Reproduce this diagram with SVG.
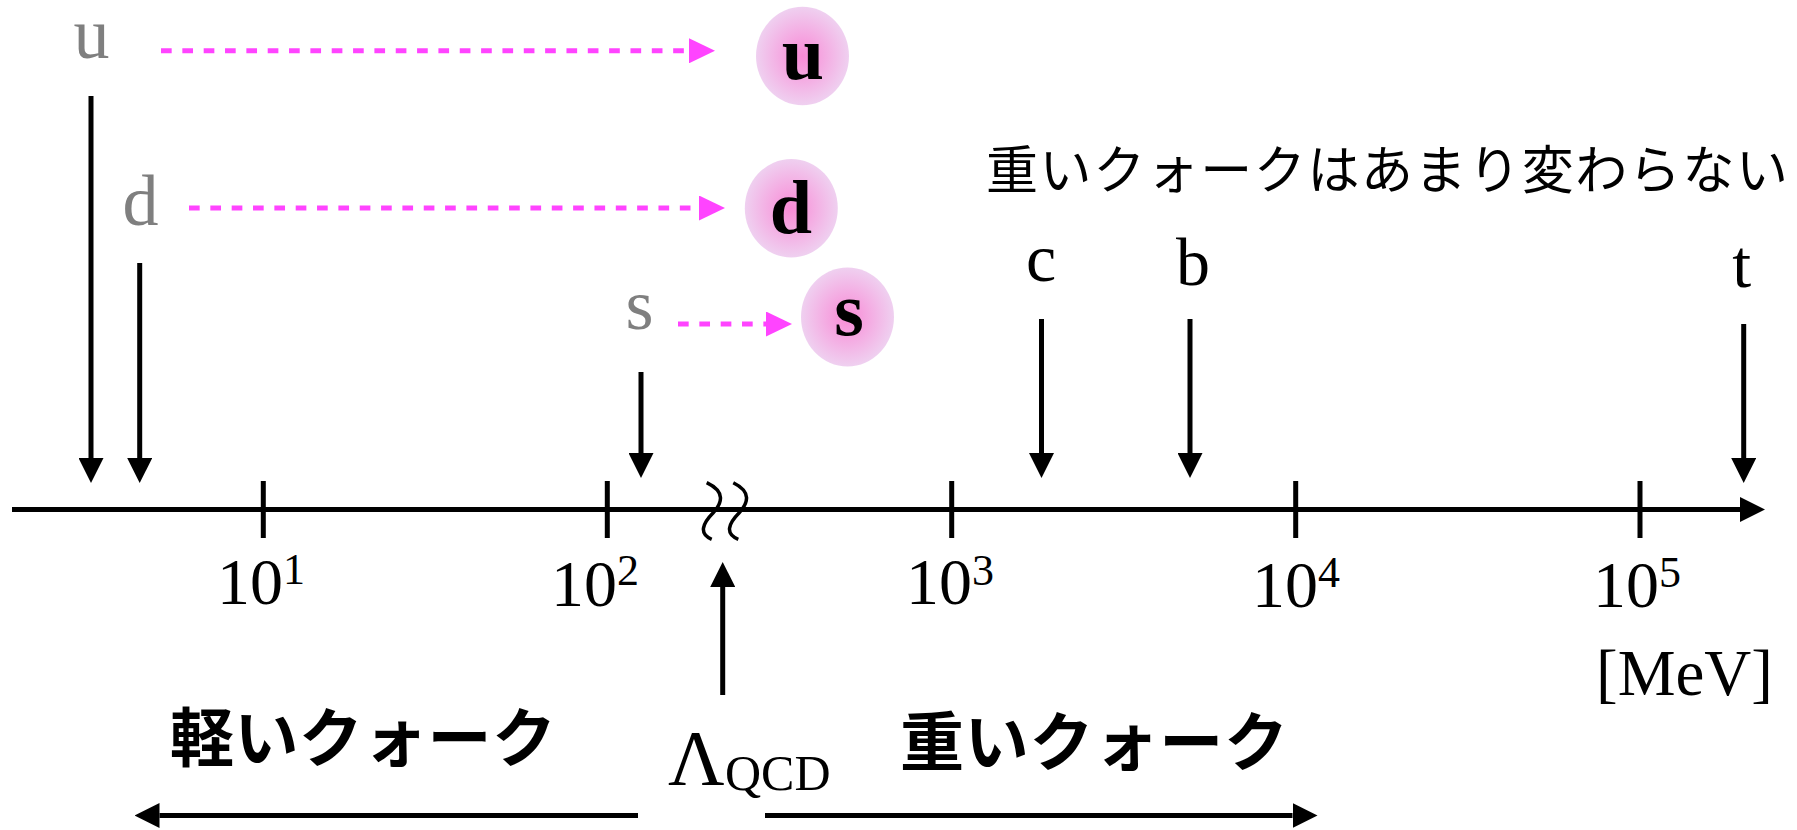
<svg xmlns="http://www.w3.org/2000/svg" width="1797" height="830" viewBox="0 0 1797 830">
<style>
.ser{font-family:"Liberation Serif","Times New Roman",serif}
.gray{font-family:"Liberation Serif",serif;font-size:72px;fill:#7f7f7f;text-anchor:middle}
.bold{font-family:"Liberation Serif",serif;font-size:76px;font-weight:bold;fill:#000;text-anchor:middle}
.lbl{font-family:"Liberation Serif",serif;font-size:68px;fill:#000;text-anchor:middle}
.num{font-family:"Liberation Serif",serif;font-size:66px;fill:#000}
.sup{font-size:44px}
.jp{font-family:"Noto Sans CJK JP","Noto Sans CJK SC",sans-serif;fill:#000}
.ln{stroke:#000;stroke-width:5;fill:none}
.pk{stroke:#ff44ff;stroke-width:5;fill:none;stroke-dasharray:10.67 10.67}
.sq{stroke:#000;stroke-width:3.5;fill:none}
</style>
<defs>
<radialGradient id="glow" cx="50%" cy="50%" r="50%">
<stop offset="0" stop-color="#f98ad6"/>
<stop offset="1" stop-color="#efd0f0"/>
</radialGradient>
<marker id="ah" markerUnits="userSpaceOnUse" markerWidth="25" markerHeight="25" viewBox="0 0 25 25" refX="0" refY="12.5" orient="auto">
<path d="M0,0 L25,12.5 L0,25 z" fill="#000"/>
</marker>
<marker id="ap" markerUnits="userSpaceOnUse" markerWidth="26" markerHeight="25" viewBox="0 0 26 25" refX="0" refY="12.5" orient="auto">
<path d="M0,0 L26,12.5 L0,25 z" fill="#ff44ff"/>
</marker>
</defs>

<g id="connectors">
<line class="ln" x1="12" y1="509.5" x2="1740" y2="509.5" marker-end="url(#ah)" stroke-width="5.5"/>
<line class="ln" x1="263.3" y1="481" x2="263.3" y2="538"/>
<line class="ln" x1="607.3" y1="481" x2="607.3" y2="538"/>
<line class="ln" x1="951.7" y1="481" x2="951.7" y2="538"/>
<line class="ln" x1="1295.7" y1="481" x2="1295.7" y2="538"/>
<line class="ln" x1="1640" y1="481" x2="1640" y2="538"/>
<path class="sq" d="M706.7,482.7 C726,492 722,503 713,513 C702,524 699,534 711.7,539.3"/>
<path class="sq" d="M733.3,482.7 C752,492 748,503 739,513 C728,524 725,534 738.3,539.3"/>
<line class="ln" x1="91" y1="96" x2="91" y2="458" marker-end="url(#ah)"/>
<line class="ln" x1="139.7" y1="263" x2="139.7" y2="458" marker-end="url(#ah)"/>
<line class="ln" x1="641" y1="372" x2="641" y2="453" marker-end="url(#ah)"/>
<line class="ln" x1="1041.5" y1="319" x2="1041.5" y2="453" marker-end="url(#ah)"/>
<line class="ln" x1="1190" y1="319" x2="1190" y2="453" marker-end="url(#ah)"/>
<line class="ln" x1="1743.7" y1="324" x2="1743.7" y2="458" marker-end="url(#ah)"/>
<line class="ln" x1="722.7" y1="695" x2="722.7" y2="587" marker-end="url(#ah)"/>
<line class="ln" x1="638" y1="815.5" x2="159.5" y2="815.5" marker-end="url(#ah)" stroke-width="5.5"/>
<line class="ln" x1="765" y1="815.5" x2="1292.5" y2="815.5" marker-end="url(#ah)" stroke-width="5.5"/>
<line class="pk" x1="161" y1="50.8" x2="689" y2="50.8" marker-end="url(#ap)"/>
<line class="pk" x1="189" y1="208" x2="699" y2="208" marker-end="url(#ap)"/>
<line class="pk" x1="678" y1="324" x2="766" y2="324" marker-end="url(#ap)"/>
</g>

<g id="light-u">
<text class="gray" x="91.5" y="58">u</text>
</g>
<g id="light-d">
<text class="gray" x="140.5" y="225">d</text>
</g>
<g id="light-s">
<text class="gray" x="639.5" y="329">s</text>
</g>

<g id="dressed-u">
<ellipse cx="802.5" cy="56" rx="46.5" ry="49.3" fill="url(#glow)"/>
<text class="bold" x="803" y="79">u</text>
</g>
<g id="dressed-d">
<ellipse cx="791.3" cy="208.2" rx="46.5" ry="49.3" fill="url(#glow)"/>
<text class="bold" x="791" y="233">d</text>
</g>
<g id="dressed-s">
<ellipse cx="847.5" cy="317" rx="46.5" ry="49.5" fill="url(#glow)"/>
<text class="bold" x="849" y="335">s</text>
</g>

<g id="heavy-note">
<text class="jp" x="986" y="189" font-size="52" textLength="802" lengthAdjust="spacing">重いクォークはあまり変わらない</text>
</g>
<g id="quark-c"><text class="lbl" x="1041" y="281">c</text></g>
<g id="quark-b"><text class="lbl" x="1193" y="285">b</text></g>
<g id="quark-t"><text class="lbl" x="1741.7" y="287">t</text></g>

<g id="tick-1"><text class="num" x="217" y="604">10<tspan class="sup" dy="-20">1</tspan></text></g>
<g id="tick-2"><text class="num" x="551" y="606">10<tspan class="sup" dy="-21">2</tspan></text></g>
<g id="tick-3"><text class="num" x="906" y="604">10<tspan class="sup" dy="-19">3</tspan></text></g>
<g id="tick-4"><text class="num" x="1252" y="607">10<tspan class="sup" dy="-20">4</tspan></text></g>
<g id="tick-5"><text class="num" x="1593" y="607">10<tspan class="sup" dy="-20">5</tspan></text></g>

<g id="unit"><text class="num" x="1596" y="695" font-size="68" textLength="177" lengthAdjust="spacingAndGlyphs">[MeV]</text></g>

<g id="lambda-qcd">
<text class="ser" x="668" y="784" font-size="78">Λ</text>
<text class="ser" x="725" y="790" font-size="50">QCD</text>
</g>

<g id="light-quarks"><text class="jp" x="170" y="761" font-size="64" font-weight="bold" textLength="386" lengthAdjust="spacing">軽いクォーク</text></g>
<g id="heavy-quarks"><text class="jp" x="900" y="765" font-size="64" font-weight="bold" textLength="388" lengthAdjust="spacing">重いクォーク</text></g>
</svg>
